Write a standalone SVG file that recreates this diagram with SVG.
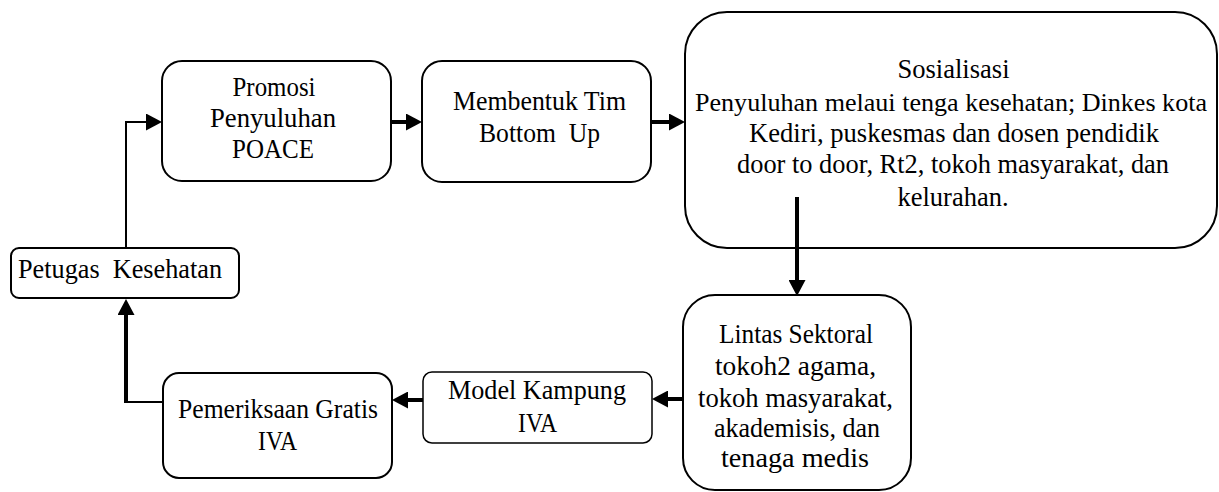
<svg xmlns="http://www.w3.org/2000/svg" width="1219" height="492" viewBox="0 0 1219 492">
<style>
.box{fill:#fff;stroke:#000;stroke-width:2}
.t{font-family:'Liberation Serif','Times New Roman',serif;font-size:27.5px;fill:#000;text-anchor:middle;white-space:pre}
.thin{fill:none;stroke:#000;stroke-width:2}
.thick{fill:none;stroke:#000;stroke-width:4}
</style>
<defs>
<marker id="ah" markerWidth="16" markerHeight="17" refX="0" refY="8.5" orient="auto" markerUnits="userSpaceOnUse" viewBox="0 0 16 17">
<path d="M0,0 L16,8.5 L0,17 z" fill="#000"/>
</marker>
</defs>
<rect width="1219" height="492" fill="#fff"/>
<g id="promosi">
<rect class="box" x="162" y="61" width="229" height="120" rx="20"/>
<text class="t" x="274" y="96" textLength="83" lengthAdjust="spacingAndGlyphs">Promosi</text>
<text class="t" x="273" y="127" textLength="126" lengthAdjust="spacingAndGlyphs">Penyuluhan</text>
<text class="t" x="273" y="158" textLength="82" lengthAdjust="spacingAndGlyphs">POACE</text>
</g>
<g id="membentuk">
<rect class="box" x="422" y="61" width="229" height="121" rx="20"/>
<text class="t" x="539.5" y="110" textLength="173" lengthAdjust="spacingAndGlyphs">Membentuk Tim</text>
<text class="t" x="539.5" y="142" textLength="121" lengthAdjust="spacingAndGlyphs">Bottom  Up</text>
</g>
<g id="sosialisasi">
<rect class="box" x="685" y="12" width="532" height="236" rx="42"/>
<text class="t" x="953.5" y="78" textLength="112" lengthAdjust="spacingAndGlyphs">Sosialisasi</text>
<text class="t" x="951" y="111" style="font-size:26px" textLength="512" lengthAdjust="spacingAndGlyphs">Penyuluhan melaui tenga kesehatan; Dinkes kota</text>
<text class="t" x="954" y="142" textLength="410" lengthAdjust="spacingAndGlyphs">Kediri, puskesmas dan dosen pendidik</text>
<text class="t" x="953" y="173" textLength="432" lengthAdjust="spacingAndGlyphs">door to door, Rt2, tokoh masyarakat, dan</text>
<text class="t" x="953" y="206" textLength="111" lengthAdjust="spacingAndGlyphs">kelurahan.</text>
</g>
<g id="lintas">
<rect class="box" x="683" y="295" width="228" height="195" rx="32"/>
<text class="t" x="796" y="343" textLength="154" lengthAdjust="spacingAndGlyphs">Lintas Sektoral</text>
<text class="t" x="795.5" y="375" textLength="161" lengthAdjust="spacingAndGlyphs">tokoh2 agama,</text>
<text class="t" x="795.5" y="407" textLength="195" lengthAdjust="spacingAndGlyphs">tokoh masyarakat,</text>
<text class="t" x="797" y="437" textLength="166" lengthAdjust="spacingAndGlyphs">akademisis, dan</text>
<text class="t" x="795" y="467" textLength="148" lengthAdjust="spacingAndGlyphs">tenaga medis</text>
</g>
<g id="model">
<rect class="box" x="423" y="372" width="229" height="71" rx="9" style="stroke-width:1.5"/>
<text class="t" x="537" y="399" textLength="178" lengthAdjust="spacingAndGlyphs">Model Kampung</text>
<text class="t" x="537.5" y="432" textLength="39" lengthAdjust="spacingAndGlyphs">IVA</text>
</g>
<g id="pemeriksaan">
<rect class="box" x="163" y="373" width="229" height="105" rx="16"/>
<text class="t" x="278" y="418" textLength="200" lengthAdjust="spacingAndGlyphs">Pemeriksaan Gratis</text>
<text class="t" x="277.5" y="450" textLength="39" lengthAdjust="spacingAndGlyphs">IVA</text>
</g>
<g id="petugas">
<rect class="box" x="11" y="248" width="228" height="50" rx="8"/>
<text class="t" x="120" y="278" textLength="204" lengthAdjust="spacingAndGlyphs">Petugas  Kesehatan</text>
</g>
<g id="connectors">
<path class="thin" d="M126,248 V122 H146" marker-end="url(#ah)"/>
<path class="thick" d="M391,122 H406" marker-end="url(#ah)"/>
<path class="thick" d="M651,122 H669" marker-end="url(#ah)"/>
<path class="thick" d="M797,197 V280" marker-end="url(#ah)"/>
<path class="thick" d="M683,399 H668" marker-end="url(#ah)"/>
<path class="thick" d="M423,400 H408" marker-end="url(#ah)"/>
<path class="thin" d="M163,402 H126"/>
<path class="thick" d="M126,403 V315" marker-end="url(#ah)"/>
</g>
</svg>
